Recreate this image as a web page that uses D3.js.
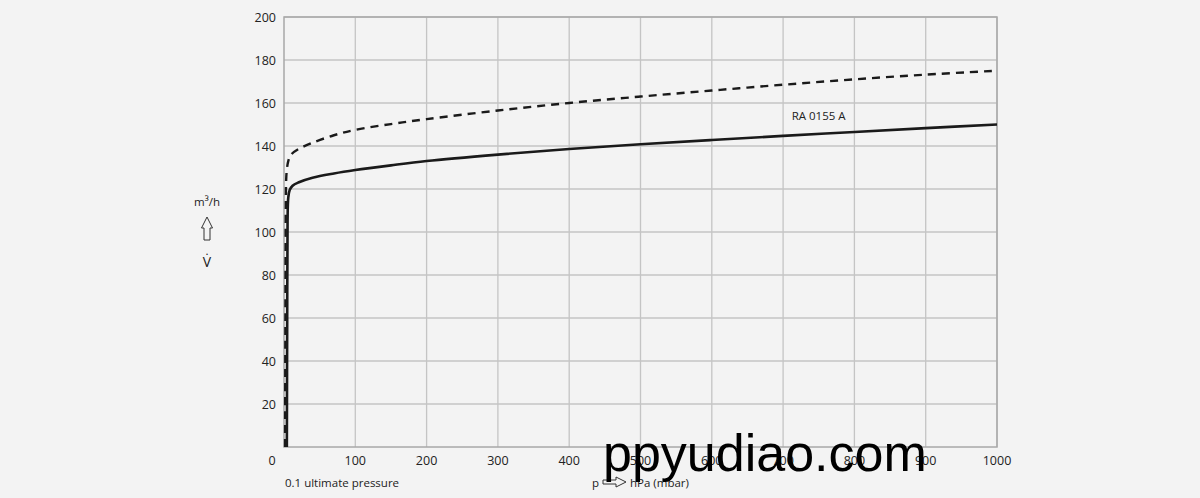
<!DOCTYPE html>
<html>
<head>
<meta charset="utf-8">
<script src="https://cdn.jsdelivr.net/npm/d3@7"></script>
<style>
  body { margin: 0; background: #f3f3f3; }
  svg { display: block; }
  .tick-label { font-family: "Open Sans", sans-serif; font-size: 12.5px; fill: #222; }
  .note { font-family: "Open Sans", sans-serif; font-size: 11.5px; fill: #222; }
</style>
</head>
<body>
<div id="chart"></div>
<script>

// pressure (hPa) vs pumping speed (m3/h)
var solidP = [4, 4.5, 5, 6, 8, 12, 20, 40, 70, 100, 150, 200, 300, 400, 500, 600, 700, 800, 900, 1000];
var solidV = [0, 60, 105, 116, 119.5, 121.5, 123, 125.2, 127.2, 128.8, 131, 133, 136, 138.6, 140.8, 142.8, 144.7, 146.5, 148.3, 150];

var dashP = [1.5, 2, 2.5, 3, 4, 6, 10, 20, 40, 70, 100, 150, 200, 300, 400, 500, 600, 700, 800, 900, 1000];
var dashV = [0, 60, 110, 124, 129, 133, 136, 138.5, 141.5, 145, 147.5, 150.2, 152.5, 156.5, 160, 163, 165.8, 168.5, 171, 173.2, 175];

var xTicks = [100, 200, 300, 400, 500, 600, 700, 800, 900, 1000];
var yTicks = [20, 40, 60, 80, 100, 120, 140, 160, 180, 200];

var W = 1200, H = 498;
var margin = { left: 284, right: 203, top: 17, bottom: 51 };

var svg = d3.select("#chart").append("svg")
  .attr("width", W).attr("height", H);

var x = d3.scaleLinear().domain([0, 1000]).range([margin.left, W - margin.right]);
var y = d3.scaleLinear().domain([0, 200]).range([H - margin.bottom, margin.top]);

// grid
svg.append("g").selectAll("line.v")
  .data(xTicks).enter().append("line")
  .attr("x1", function(d){ return x(d); }).attr("x2", function(d){ return x(d); })
  .attr("y1", y(0)).attr("y2", y(200))
  .attr("stroke", "#c4c4c4").attr("stroke-width", 1.3);

svg.append("g").selectAll("line.h")
  .data(yTicks).enter().append("line")
  .attr("y1", function(d){ return y(d); }).attr("y2", function(d){ return y(d); })
  .attr("x1", x(0)).attr("x2", x(1000))
  .attr("stroke", "#c4c4c4").attr("stroke-width", 1.3);

svg.append("rect")
  .attr("x", x(0)).attr("y", y(200))
  .attr("width", x(1000) - x(0)).attr("height", y(0) - y(200))
  .attr("fill", "none").attr("stroke", "#a8a8a8").attr("stroke-width", 1.5);

// tick labels
svg.selectAll(".ylab").data(yTicks).enter().append("text")
  .attr("class", "tick-label")
  .attr("x", x(0) - 8).attr("y", function(d){ return y(d) + 4.5; })
  .attr("text-anchor", "end")
  .text(function(d){ return d; });

svg.selectAll(".xlab").data(xTicks).enter().append("text")
  .attr("class", "tick-label")
  .attr("x", function(d){ return x(d); }).attr("y", y(0) + 18)
  .attr("text-anchor", "middle")
  .text(function(d){ return d; });

svg.append("text").attr("class", "tick-label")
  .attr("x", x(0) - 12).attr("y", y(0) + 18)
  .attr("text-anchor", "middle").text("0");

// curves
var line = d3.line()
  .x(function(d){ return x(d[0]); })
  .y(function(d){ return y(d[1]); })
  .curve(d3.curveCatmullRom.alpha(0.5));

var solid = d3.zip(solidP, solidV);
var dashed = d3.zip(dashP, dashV);

svg.append("path")
  .attr("d", line(dashed))
  .attr("fill", "none").attr("stroke", "#1a1a1a")
  .attr("stroke-width", 2.4).attr("stroke-dasharray", "8,6");

svg.append("path")
  .attr("d", line(solid))
  .attr("fill", "none").attr("stroke", "#1a1a1a")
  .attr("stroke-width", 2.6);

svg.append("text").attr("class", "note")
  .attr("x", x(712)).attr("y", y(152))
  .text("RA 0155 A");

// axis titles
svg.append("text").attr("class", "note")
  .attr("x", 207).attr("y", 206).attr("text-anchor", "middle")
  .text("m³/h");

svg.append("path")
  .attr("d", "M204,240 L204,228 L201.5,228 L207,217 L212.5,228 L210,228 L210,240 Z")
  .attr("fill", "none").attr("stroke", "#333").attr("stroke-width", 1);

svg.append("text").attr("class", "note")
  .attr("x", 207).attr("y", 267).attr("text-anchor", "middle")
  .style("font-size", "14px")
  .text("V̇");

svg.append("text").attr("class", "note")
  .attr("x", 285).attr("y", 487)
  .text("0.1 ultimate pressure");

svg.append("text").attr("class", "note")
  .attr("x", 592).attr("y", 487)
  .text("p");

svg.append("path")
  .attr("d", "M603,480 L616,480 L616,477 L626,482 L616,487 L616,484 L603,484 Z")
  .attr("fill", "none").attr("stroke", "#333").attr("stroke-width", 1);

svg.append("text").attr("class", "note")
  .attr("x", 630).attr("y", 487)
  .text("hPa (mbar)");

// watermark
svg.append("text")
  .attr("x", 603).attr("y", 471)
  .style("font-family", "'Liberation Sans', Arial, sans-serif")
  .style("font-size", "52px")
  .attr("fill", "#000")
  .text("ppyudiao.com");

</script>
</body>
</html>
